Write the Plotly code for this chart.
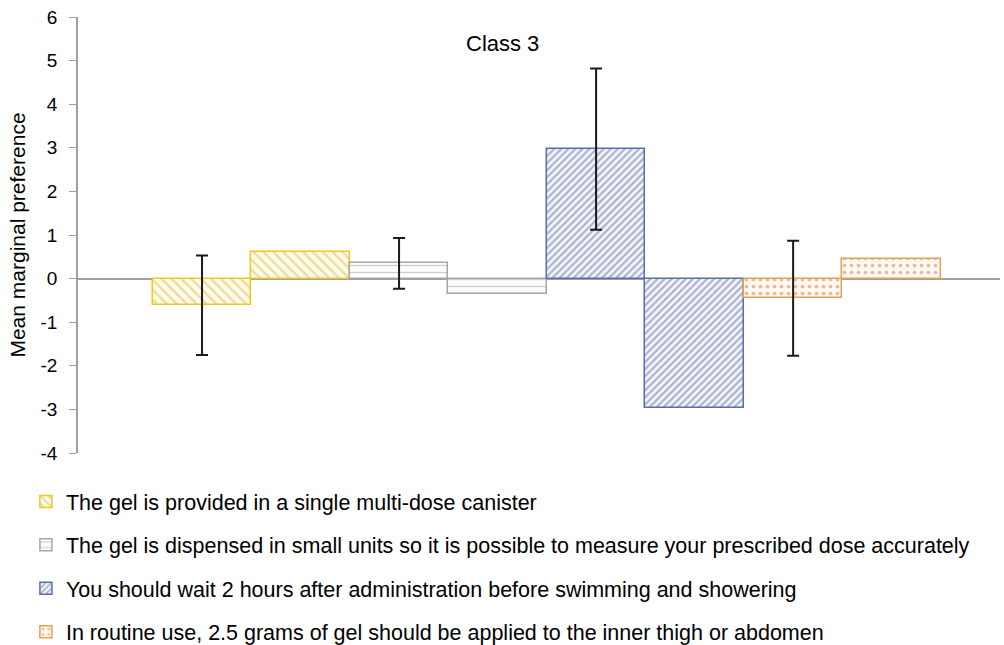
import plotly.graph_objects as go

labels = [
    "The gel is provided in a single multi-dose canister",
    "The gel is dispensed in small units so it is possible to measure your prescribed dose accurately",
    "You should wait 2 hours after administration before swimming and showering",
    "In routine use, 2.5 grams of gel should be applied to the inner thigh or abdomen",
]
positions = [[0, 1], [2, 3], [4, 5], [6, 7]]
values = [[-0.6, 0.6], [0.36, -0.36], [2.97, -2.97], [-0.45, 0.45]]
err_x = [0, 2, 4, 6]
err_y = [-0.6, 0.36, 2.97, -0.45]
err_plus = [1.13, 0.57, 1.85, 1.32]
err_minus = [1.15, 0.59, 1.85, 1.32]
y_ticks = [6, 5, 4, 3, 2, 1, 0, -1, -2, -3, -4]
y_ticktext = ["6", "5", "4", "3", "2", "1", "0", "-1", "-2", "-3", "-4"]

line_colors = ["#f2c81e", "#a6a6a6", "#5b6cb0", "#e8a050"]
fg_colors = ["#cdb655", "#9a9a9a", "#5f6f9e", "#cc8052"]
bg_colors = ["#fffbe6", "#ffffff", "#f4f5fa", "#fff8f0"]
shapes = ["\\", "-", "/", "."]
sizes = [7, 7, 5, 7]
solid = [0.3, 0.2, 0.42, 0.22]

fig = go.Figure()
for i in range(4):
    fig.add_trace(go.Bar(
        x=positions[i], y=values[i], width=1, name=labels[i],
        legendgroup=str(i),
        marker=dict(
            color=bg_colors[i],
            line=dict(color=line_colors[i], width=1.5),
            pattern=dict(shape=shapes[i], fgcolor=fg_colors[i], bgcolor=bg_colors[i],
                         size=sizes[i], solidity=solid[i], fillmode="overlay"),
        ),
    ))

fig.add_trace(go.Scatter(
    x=err_x, y=err_y, mode="markers", showlegend=False,
    marker=dict(size=1, color="rgba(0,0,0,0)"),
    error_y=dict(type="data", symmetric=False, array=err_plus, arrayminus=err_minus,
                 color="#1a1a1a", thickness=2, width=6),
    hoverinfo="skip",
))

fig.add_annotation(text="Class 3", x=0.46, y=0.94, xref="paper", yref="paper",
                   xanchor="center", yanchor="middle",
                   showarrow=False, font=dict(size=22, color="#000"))

fig.update_layout(
    width=1004, height=645,
    margin=dict(l=78, r=4, t=17, b=192, autoexpand=False),
    plot_bgcolor="white", paper_bgcolor="white",
    font=dict(family="Liberation Sans, Arial, sans-serif", size=21.5, color="#000"),
    barmode="overlay", bargap=0,
    legend=dict(x=-0.0565, xanchor="left", y=-0.064, yanchor="top",
                orientation="v", tracegroupgap=12.5, font=dict(size=21.5),
                itemwidth=30),
    xaxis=dict(range=[-1.259, 8.1], showticklabels=False, showgrid=False,
               zeroline=False, showline=False, ticks=""),
    yaxis=dict(range=[-4, 6], tickvals=y_ticks, ticktext=y_ticktext, showgrid=False,
               zeroline=True, zerolinecolor="#a0a0a0", zerolinewidth=1.5,
               showline=True, linecolor="#a0a0a0", linewidth=1.5,
               ticks="outside", ticklen=7, tickcolor="#a0a0a0",
               ticklabelstandoff=8, ticklabeloverflow="allow",
               title=dict(text="Mean marginal preference", font=dict(size=21), standoff=9),
               tickfont=dict(size=19)),
)

fig.write_html("out.html", config={"displayModeBar": False},
               post_script="document.body.style.margin='0';")
